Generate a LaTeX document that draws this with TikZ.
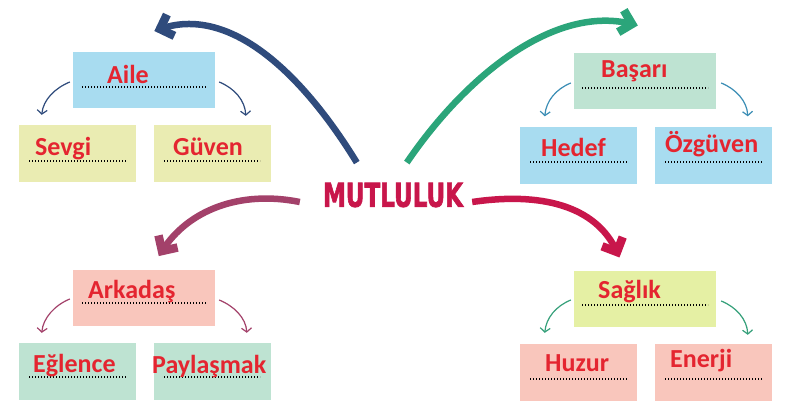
\documentclass[tikz,border=0pt]{standalone}
\usepackage{fontspec}
\usepackage{graphicx}
\setmainfont{Carlito}
\newfontfamily\titlefont[BoldFeatures={FakeBold=2.5}]{DejaVu Sans}
\usetikzlibrary{arrows.meta,calc}
\definecolor{txtred}{HTML}{E42530}
\definecolor{fblue}{HTML}{A8DCF0}
\definecolor{fyellow}{HTML}{EAECB2}
\definecolor{fgreen}{HTML}{BEE3D2}
\definecolor{fpink}{HTML}{F9C6BC}
\definecolor{flime}{HTML}{E5F0A4}
\definecolor{cnavy}{HTML}{2F4B7C}
\definecolor{cgreen}{HTML}{2BA57A}
\definecolor{cmauve}{HTML}{A3416A}
\definecolor{ccrimson}{HTML}{C8164B}
\definecolor{cteal}{HTML}{3A8DB5}
\definecolor{csgreen}{HTML}{35A07A}
\tikzset{
  box/.style={rectangle, draw=none, inner sep=0pt},
  bigbox/.style={box, minimum width=142pt, minimum height=56pt},
  smallbox/.style={box, minimum width=117pt, minimum height=57pt},
  lbl/.style={anchor=base west, inner sep=0pt, text=txtred, font=\fontsize{26}{26}\selectfont\bfseries},
  dots/.style={black, line width=1.6pt, dash pattern=on 1.3pt off 1.7pt},
  bigshaft/.style={line width=6.5pt, line cap=butt},
  bighead/.style={line width=8.5pt, line cap=butt, line join=miter},
  smallarrow/.style={line width=1.2pt, -{Straight Barb[length=4pt,width=10pt]}},
}
\begin{document}
\begin{tikzpicture}[x=1pt,y=-1pt]
\useasboundingbox (0,0) rectangle (792,415);
\fill[white] (0,0) rectangle (792,415);

% boxes
\node[bigbox, fill=fblue] (aile) at (144,80) {};
\node[smallbox, fill=fyellow] (sevgi) at (77.5,153.5) {};
\node[smallbox, fill=fyellow] (guven) at (212.5,153.5) {};
\node[bigbox, fill=fgreen] (basari) at (645,81) {};
\node[smallbox, fill=fblue] (hedef) at (578.5,155) {};
\node[smallbox, fill=fblue] (ozguven) at (713.5,155) {};
\node[bigbox, fill=fpink] (arkadas) at (144,297.5) {};
\node[smallbox, fill=fgreen] (eglence) at (77.5,371.5) {};
\node[smallbox, fill=fgreen] (paylasmak) at (212.5,371.5) {};
\node[bigbox, fill=flime] (saglik) at (645,298.5) {};
\node[smallbox, fill=fpink] (huzur) at (578.5,372.5) {};
\node[smallbox, fill=fpink] (enerji) at (713.5,372.5) {};

% dotted lines
\draw[dots] (82,87) -- (207,87);
\draw[dots] (29,161) -- (126,161);
\draw[dots] (164,161) -- (260,161);
\draw[dots] (582,88) -- (708,88);
\draw[dots] (530,162) -- (627,162);
\draw[dots] (665,162) -- (762,162);
\draw[dots] (82,303) -- (207,303);
\draw[dots] (29,377) -- (126,377);
\draw[dots] (164,377) -- (260,377);
\draw[dots] (582,305) -- (708,305);
\draw[dots] (530,379) -- (627,379);
\draw[dots] (665,379) -- (762,379);

% labels
\node[lbl] (tAile) at (107,83) {Aile};
\node[lbl] (tSevgi) at (35,155) {Sevgi};
\node[lbl] (tGuven) at (173,155) {Güven};
\node[lbl] (tBasari) at (601,77) {Başarı};
\node[lbl] (tHedef) at (541,156) {Hedef};
\node[lbl] (tOzguven) at (665,152) {Özgüven};
\node[lbl] (tArkadas) at (88,298) {Arkadaş};
\node[lbl] (tEglence) at (33,372) {Eğlence};
\node[lbl] (tPaylasmak) at (152,373) {Paylaşmak};
\node[lbl] (tSaglik) at (598,298) {Sağlık};
\node[lbl] (tHuzur) at (545,371) {Huzur};
\node[lbl] (tEnerji) at (670,367) {Enerji};

% central title
\node[inner sep=0pt, text=ccrimson] (mut) at (393,195) {\resizebox{140pt}{24pt}{\titlefont\bfseries MUTLULUK}};

% big arrows
\coordinate (mA) at ($(mut.north west)+(34,-20)$);
\coordinate (mB) at ($(mut.north west)+(84,-20)$);
\coordinate (mC) at ($(mut.west)+(-23,7)$);
\coordinate (mD) at ($(mut.east)+(9,7)$);
\coordinate (hA) at (160,29);
\coordinate (hB) at (632,24);
\coordinate (hC) at (162,251);
\coordinate (hD) at (617,252);
\coordinate (cA) at (228,5);
\coordinate (cB) at (558,5);
\coordinate (cC) at (188,210);
\coordinate (cD) at (596,205);
\draw[bigshaft, cnavy] (mA) .. controls (300,70) and (cA) .. (hA);
\draw[bighead, cnavy] ($(hA)!16pt!45:(cA)$) -- (hA) -- ($(hA)!16pt!-45:(cA)$);
\draw[bigshaft, cgreen] (mB) .. controls (470,70) and (cB) .. (hB);
\draw[bighead, cgreen] ($(hB)!16pt!45:(cB)$) -- (hB) -- ($(hB)!16pt!-45:(cB)$);
\draw[bigshaft, cmauve] (mC) .. controls (240,190) and (cC) .. (hC);
\draw[bighead, cmauve] ($(hC)!16pt!45:(cC)$) -- (hC) -- ($(hC)!16pt!-45:(cC)$);
\draw[bigshaft, ccrimson] (mD) .. controls (540,192) and (cD) .. (hD);
\draw[bighead, ccrimson] ($(hD)!16pt!45:(cD)$) -- (hD) -- ($(hD)!16pt!-45:(cD)$);

% small arrows
\draw[smallarrow, cnavy] ($(aile.west)+(-3,2)$) .. controls (55,88) and (43,100) .. ($(sevgi.north west)+(23,-10)$);
\draw[smallarrow, cnavy] ($(aile.east)+(4,2)$) .. controls (234,88) and (245,100) .. ($(guven.north west)+(92,-9)$);
\draw[smallarrow, cteal] ($(basari.west)+(-3,2)$) .. controls (556,89) and (546,101) .. ($(hedef.north west)+(25,-10)$);
\draw[smallarrow, cteal] ($(basari.east)+(5,2)$) .. controls (736,89) and (747,101) .. ($(ozguven.north west)+(93,-10)$);
\draw[smallarrow, cmauve] ($(arkadas.west)+(-3,1.5)$) .. controls (55,305) and (43,318) .. ($(eglence.north west)+(23,-10)$);
\draw[smallarrow, cmauve] ($(arkadas.east)+(4,2.5)$) .. controls (234,306) and (246,318) .. ($(paylasmak.north west)+(93,-10)$);
\draw[smallarrow, csgreen] ($(saglik.west)+(-3,1.5)$) .. controls (556,306) and (546,318) .. ($(huzur.north west)+(25,-11)$);
\draw[smallarrow, csgreen] ($(saglik.east)+(5,2.5)$) .. controls (736,307) and (747,319) .. ($(enerji.north west)+(93,-9)$);
\end{tikzpicture}
\end{document}
